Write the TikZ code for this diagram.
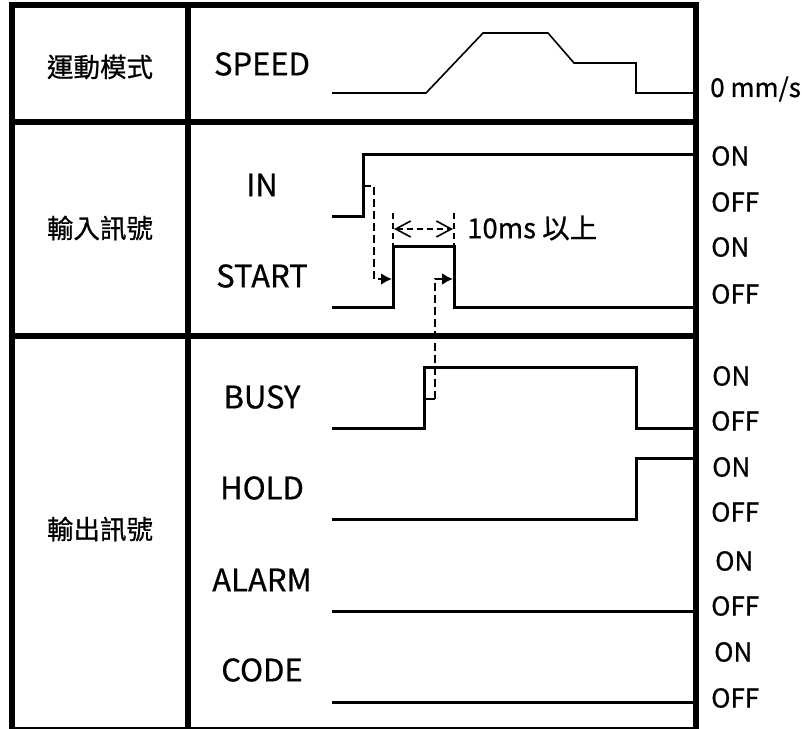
\documentclass[tikz,border=0pt]{standalone}
\usepackage{fontspec}
\setmainfont{Noto Sans CJK TC}[FakeBold=0.7]
\usetikzlibrary{arrows.meta}

\begin{document}
\begin{tikzpicture}[x=1pt, y=-1pt,
  frame/.style={line width=5.5pt},
  sig/.style={line width=3pt, line join=miter},
  speedline/.style={line width=1.6pt},
  guide/.style={line width=2.4pt, dash pattern=on 8pt off 4pt},
  dim/.style={line width=1.6pt, dash pattern=on 6pt off 4pt},
  signame/.style={font=\fontsize{31}{33}\selectfont, inner sep=0pt},
  grouptitle/.style={font=\fontsize{26.5}{28}\selectfont, inner sep=0pt},
  levellabel/.style={font=\fontsize{26}{28}\selectfont, anchor=west, inner sep=0pt},
  >={Latex[length=11pt,width=12pt]}]
\useasboundingbox[fill=white] (0,0) rectangle (802,728);

% table
\draw[frame] (12,5) rectangle (696,730);
\draw[frame] (188,5) -- (188,730);
\draw[frame] (12,122) -- (696,122);
\draw[frame] (12,336) -- (696,336);

\node[grouptitle] (motion) at (100,67) {運動模式};
\node[grouptitle] (inputs) at (100,228) {輸入訊號};
\node[grouptitle] (outputs) at (100,529) {輸出訊號};

\node[signame] (speed) at (262,64) {SPEED};
\node[signame] (in) at (262,185) {IN};
\node[signame] (start) at (262,276) {START};
\node[signame] (busy) at (262,397) {BUSY};
\node[signame] (hold) at (262,488) {HOLD};
\node[signame] (alarm) at (262,580) {ALARM};
\node[signame] (code) at (262,670) {CODE};

% levels
\node[levellabel] (zero) at (710,89) {0 mm/s};
\node[levellabel] (inon) at (711,156) {ON};
\node[levellabel] (inoff) at (711,202) {OFF};
\node[levellabel] (starton) at (711,247) {ON};
\node[levellabel] (startoff) at (711,294) {OFF};
\node[levellabel] (busyon) at (712,376) {ON};
\node[levellabel] (busyoff) at (711,421) {OFF};
\node[levellabel] (holdon) at (712,467) {ON};
\node[levellabel] (holdoff) at (711,512) {OFF};
\node[levellabel] (alarmon) at (715,561) {ON};
\node[levellabel] (alarmoff) at (711,606) {OFF};
\node[levellabel] (codeon) at (714,652) {ON};
\node[levellabel] (codeoff) at (711,698) {OFF};

% waveforms
\draw[speedline] (332,93) -- (426,93) -- (483,33) -- (548,33) -- (574,63)
  -- (636,63) -- (636,93) -- (693,93);
\draw[sig] (332,216) -| (363,154) -- (693,154);
\draw[sig] (332,307) -| (393,246) -| (454,307) -- (693,307);
\draw[sig] (332,428) -| (424,367) -| (636,428) -- (693,428);
\draw[sig] (332,519) -| (636,458) -- (693,458);
\draw[sig] (332,611) -- (693,611);
\draw[sig] (332,702) -- (693,702);

% timing
\coordinate (inrise) at (363,186);
\coordinate (startrise) at (392,279);
\coordinate (startfall) at (453,279);
\coordinate (busyrise) at (424,399);
\draw[guide,->] (inrise) -- ++(11,0) |- (startrise);
\draw[line width=1.5pt] (busyrise) -- ++(11,0) coordinate (busytick);
\draw[guide,->] (busytick) |- (startfall);

\coordinate (pulseL) at (394,229);
\coordinate (pulseR) at (453,229);
\draw[dim] (393,213) -- (393,246);
\draw[dim] (454,213) -- (454,246);
\draw[dim, {Straight Barb[length=15pt,width=16pt,line width=1.6pt]}-{Straight Barb[length=15pt,width=16pt,line width=1.6pt]}]
  (pulseL) -- (pulseR);
\node[levellabel, font=\fontsize{27.5}{29}\selectfont] (minimum) at (467,228) {10ms 以上};
\end{tikzpicture}
\end{document}
